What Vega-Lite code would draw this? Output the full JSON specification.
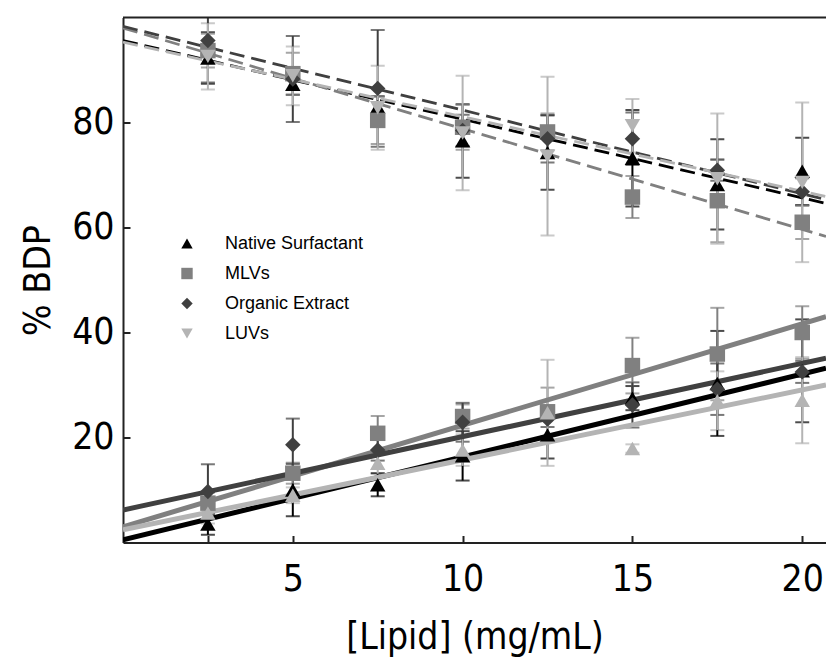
{
  "$schema": "https://vega.github.io/schema/vega-lite/v6.json",
  "autosize": {"type": "none"},
  "padding": {"left": 123, "top": 17.5, "right": 0, "bottom": 118.5},
  "width": 703,
  "height": 525,
  "background": "white",
  "config": {
    "view": {"stroke": null},
    "font": "Liberation Sans",
    "axis": {
      "domainColor": "#222222",
      "domainWidth": 2,
      "tickColor": "#222222",
      "tickWidth": 2,
      "tickSize": -7,
      "grid": false,
      "labelFont": "Liberation Sans Narrow, DejaVu Sans Condensed, Liberation Sans",
      "titleFont": "Liberation Sans Narrow, DejaVu Sans Condensed, Liberation Sans",
      "labelFontSize": 37,
      "titleFontSize": 37,
      "labelColor": "#000000",
      "titleColor": "#000000",
      "titleFontWeight": "normal"
    },
    "legend": {
      "orient": "none",
      "legendX": 55,
      "legendY": 217,
      "labelFont": "Liberation Sans",
      "labelFontSize": 18,
      "labelColor": "#000000",
      "symbolSize": 130,
      "symbolOpacity": 1,
      "labelOffset": 29,
      "rowPadding": 12,
      "padding": 0,
      "symbolStrokeWidth": 0
    }
  },
  "datasets": {
    "pts": [
      {"group": "upper", "series": "Native Surfactant", "x": 2.5, "y": 92.3, "err": 4.9},
      {"group": "upper", "series": "Native Surfactant", "x": 5, "y": 87.3, "err": 2},
      {"group": "upper", "series": "Native Surfactant", "x": 7.5, "y": 83, "err": 2},
      {"group": "upper", "series": "Native Surfactant", "x": 10, "y": 76.5, "err": 7},
      {"group": "upper", "series": "Native Surfactant", "x": 12.5, "y": 74.3, "err": 7.1},
      {"group": "upper", "series": "Native Surfactant", "x": 15, "y": 73.2, "err": 9.2},
      {"group": "upper", "series": "Native Surfactant", "x": 17.5, "y": 68.2, "err": 8.6},
      {"group": "upper", "series": "Native Surfactant", "x": 20, "y": 70.7, "err": 6.4},
      {"group": "upper", "series": "MLVs", "x": 2.5, "y": 93.7, "err": 3.2},
      {"group": "upper", "series": "MLVs", "x": 5, "y": 89.3, "err": 4},
      {"group": "upper", "series": "MLVs", "x": 7.5, "y": 80.4, "err": 4.5},
      {"group": "upper", "series": "MLVs", "x": 10, "y": 79.1, "err": 4.3},
      {"group": "upper", "series": "MLVs", "x": 12.5, "y": 78.2, "err": 3.5},
      {"group": "upper", "series": "MLVs", "x": 15, "y": 65.8, "err": 4},
      {"group": "upper", "series": "MLVs", "x": 17.5, "y": 65.1, "err": 7.9},
      {"group": "upper", "series": "MLVs", "x": 20, "y": 61, "err": 3.2},
      {"group": "upper", "series": "Organic Extract", "x": 2.5, "y": 95.6, "err": 8},
      {"group": "upper", "series": "Organic Extract", "x": 5, "y": 88.3, "err": 8.2},
      {"group": "upper", "series": "Organic Extract", "x": 7.5, "y": 86.5, "err": 11.1},
      {"group": "upper", "series": "Organic Extract", "x": 10, "y": 78.5, "err": 3},
      {"group": "upper", "series": "Organic Extract", "x": 12.5, "y": 76.9, "err": 4.5},
      {"group": "upper", "series": "Organic Extract", "x": 15, "y": 76.9, "err": 5},
      {"group": "upper", "series": "Organic Extract", "x": 17.5, "y": 70.9, "err": 2},
      {"group": "upper", "series": "Organic Extract", "x": 20, "y": 66.8, "err": 2.6},
      {"group": "upper", "series": "LUVs", "x": 2.5, "y": 92.6, "err": 6.3},
      {"group": "upper", "series": "LUVs", "x": 5, "y": 88.9, "err": 5.6},
      {"group": "upper", "series": "LUVs", "x": 7.5, "y": 82.8, "err": 8},
      {"group": "upper", "series": "LUVs", "x": 10, "y": 78, "err": 10.9},
      {"group": "upper", "series": "LUVs", "x": 12.5, "y": 73.6, "err": 15.1},
      {"group": "upper", "series": "LUVs", "x": 15, "y": 79.4, "err": 5.1},
      {"group": "upper", "series": "LUVs", "x": 17.5, "y": 69.3, "err": 12.4},
      {"group": "upper", "series": "LUVs", "x": 20, "y": 68.6, "err": 15.2},
      {"group": "lower", "series": "Native Surfactant", "x": 2.5, "y": 3.5, "err": 2},
      {"group": "lower", "series": "Native Surfactant", "x": 5, "y": 10, "err": 5},
      {"group": "lower", "series": "Native Surfactant", "x": 7.5, "y": 11, "err": 2.2},
      {"group": "lower", "series": "Native Surfactant", "x": 10, "y": 16.5, "err": 4.7},
      {"group": "lower", "series": "Native Surfactant", "x": 12.5, "y": 20.5, "err": 4.5},
      {"group": "lower", "series": "Native Surfactant", "x": 15, "y": 27.5, "err": 2.3},
      {"group": "lower", "series": "Native Surfactant", "x": 17.5, "y": 30.3, "err": 10},
      {"group": "lower", "series": "Native Surfactant", "x": 20, "y": 32.7, "err": 9.8},
      {"group": "lower", "series": "MLVs", "x": 2.5, "y": 7.5, "err": 2},
      {"group": "lower", "series": "MLVs", "x": 5, "y": 13.2, "err": 2},
      {"group": "lower", "series": "MLVs", "x": 7.5, "y": 20.8, "err": 3.3},
      {"group": "lower", "series": "MLVs", "x": 10, "y": 24, "err": 2.3},
      {"group": "lower", "series": "MLVs", "x": 12.5, "y": 24.9, "err": 4.6},
      {"group": "lower", "series": "MLVs", "x": 15, "y": 33.7, "err": 5.3},
      {"group": "lower", "series": "MLVs", "x": 17.5, "y": 35.9, "err": 8.8},
      {"group": "lower", "series": "MLVs", "x": 20, "y": 40, "err": 5},
      {"group": "lower", "series": "Organic Extract", "x": 2.5, "y": 9.7, "err": 5.2},
      {"group": "lower", "series": "Organic Extract", "x": 5, "y": 18.6, "err": 5},
      {"group": "lower", "series": "Organic Extract", "x": 7.5, "y": 17.6, "err": 2},
      {"group": "lower", "series": "Organic Extract", "x": 10, "y": 22.9, "err": 3.7},
      {"group": "lower", "series": "Organic Extract", "x": 12.5, "y": 23.5, "err": 1.5},
      {"group": "lower", "series": "Organic Extract", "x": 15, "y": 26.2, "err": 4.3},
      {"group": "lower", "series": "Organic Extract", "x": 17.5, "y": 29.2, "err": 4.9},
      {"group": "lower", "series": "Organic Extract", "x": 20, "y": 32.5, "err": 2.1},
      {"group": "lower", "series": "LUVs", "x": 2.5, "y": 5.6, "err": 2},
      {"group": "lower", "series": "LUVs", "x": 5, "y": 9, "err": 1.5},
      {"group": "lower", "series": "LUVs", "x": 7.5, "y": 15.1, "err": 2},
      {"group": "lower", "series": "LUVs", "x": 10, "y": 17.6, "err": 3},
      {"group": "lower", "series": "LUVs", "x": 12.5, "y": 24.7, "err": 10.1},
      {"group": "lower", "series": "LUVs", "x": 15, "y": 17.9, "err": 0.8},
      {"group": "lower", "series": "LUVs", "x": 17.5, "y": 27, "err": 5.6},
      {"group": "lower", "series": "LUVs", "x": 20, "y": 27.1, "err": 8.2}
    ],
    "fits": [
      {"group": "upper", "series": "Native Surfactant", "x": 0, "y": 95.6},
      {"group": "upper", "series": "Native Surfactant", "x": 20.7, "y": 64.6},
      {"group": "upper", "series": "MLVs", "x": 0, "y": 98.0},
      {"group": "upper", "series": "MLVs", "x": 20.7, "y": 58.3},
      {"group": "upper", "series": "Organic Extract", "x": 0, "y": 98.3},
      {"group": "upper", "series": "Organic Extract", "x": 20.7, "y": 65.3},
      {"group": "upper", "series": "LUVs", "x": 0, "y": 95.3},
      {"group": "upper", "series": "LUVs", "x": 20.7, "y": 65.9},
      {"group": "lower", "series": "Native Surfactant", "x": 0, "y": 0.5},
      {"group": "lower", "series": "Native Surfactant", "x": 20.7, "y": 33.2},
      {"group": "lower", "series": "MLVs", "x": 0, "y": 3.0},
      {"group": "lower", "series": "MLVs", "x": 20.7, "y": 43.0},
      {"group": "lower", "series": "Organic Extract", "x": 0, "y": 6.2},
      {"group": "lower", "series": "Organic Extract", "x": 20.7, "y": 35.1},
      {"group": "lower", "series": "LUVs", "x": 0, "y": 2.4},
      {"group": "lower", "series": "LUVs", "x": 20.7, "y": 30.0}
    ]
  },
  "layer": [
    {
      "data": {"name": "pts"},
      "mark": {"type": "errorbar", "ticks": {"size": 14, "thickness": 2}, "thickness": 2, "clip": true},
      "encoding": {
        "x": {"field": "x", "type": "quantitative", "scale": {"domain": [0, 20.7], "nice": false, "zero": false},
          "axis": {"values": [2.5, 5, 10, 15, 20], "labelExpr": "datum.value == 2.5 ? '' : datum.label", "labelPadding": 26, "title": "[Lipid] (mg/mL)", "titlePadding": 22}},
        "y": {"field": "y", "type": "quantitative", "scale": {"domain": [0, 100], "nice": false},
          "axis": {"values": [20, 40, 60, 80], "labelPadding": 16, "title": "% BDP", "titlePadding": 14}},
        "yError": {"field": "err"},
        "color": {"field": "series", "type": "nominal", "title": null,
          "scale": {"domain": ["Native Surfactant", "MLVs", "Organic Extract", "LUVs"], "range": ["#000000", "#808080", "#404040", "#b4b4b4"]}}
      }
    },
    {
      "data": {"name": "fits"},
      "transform": [{"filter": "datum.group == 'upper'"}],
      "mark": {"type": "line", "strokeWidth": 2.8, "strokeDash": [15, 7], "clip": true},
      "encoding": {
        "x": {"field": "x", "type": "quantitative"},
        "y": {"field": "y", "type": "quantitative"},
        "color": {"field": "series", "type": "nominal", "title": null}
      }
    },
    {
      "data": {"name": "fits"},
      "transform": [{"filter": "datum.group == 'lower'"}],
      "mark": {"type": "line", "strokeWidth": 5, "clip": true},
      "encoding": {
        "x": {"field": "x", "type": "quantitative"},
        "y": {"field": "y", "type": "quantitative"},
        "color": {"field": "series", "type": "nominal", "title": null}
      }
    },
    {
      "data": {"name": "pts"},
      "transform": [{"filter": "datum.group == 'upper' || datum.series != 'LUVs'"}],
      "mark": {"type": "point", "filled": true, "opacity": 1, "size": 240},
      "encoding": {
        "x": {"field": "x", "type": "quantitative"},
        "y": {"field": "y", "type": "quantitative"},
        "color": {"field": "series", "type": "nominal", "title": null},
        "shape": {"field": "series", "type": "nominal", "title": null,
          "scale": {"domain": ["Native Surfactant", "MLVs", "Organic Extract", "LUVs"], "range": ["triangle-up", "square", "diamond", "triangle-down"]}}
      }
    },
    {
      "data": {"name": "pts"},
      "transform": [{"filter": "datum.group == 'lower' && datum.series == 'LUVs'"}],
      "mark": {"type": "point", "filled": true, "opacity": 1, "size": 240, "shape": "triangle-up", "color": "#b4b4b4"},
      "encoding": {
        "x": {"field": "x", "type": "quantitative"},
        "y": {"field": "y", "type": "quantitative"}
      }
    },
    {
      "data": {"values": [{}]},
      "mark": {"type": "rule", "color": "#222222", "strokeWidth": 2},
      "encoding": {"y": {"datum": 100}}
    }
  ]
}
